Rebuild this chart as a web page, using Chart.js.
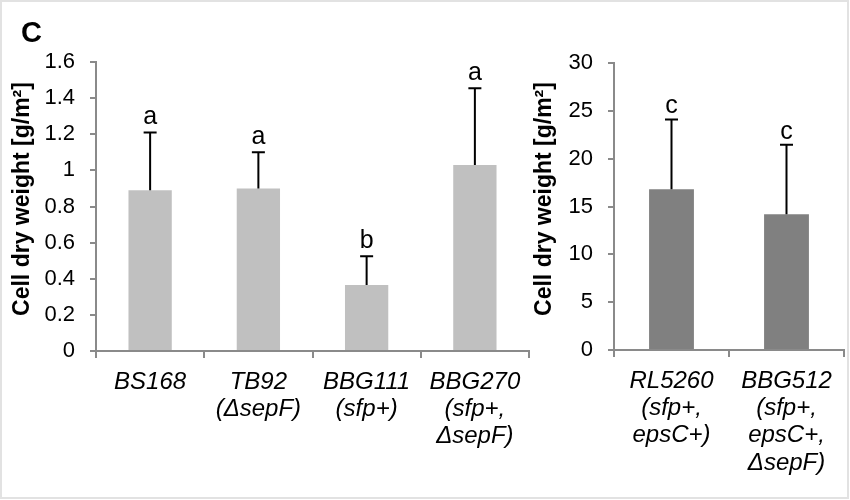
<!DOCTYPE html>
<html><head><meta charset="utf-8">
<script src="https://cdn.jsdelivr.net/npm/chart.js@4"></script>
<style>
html,body{margin:0;padding:0;background:#fff;}
#wrap{position:relative;width:850px;height:500px;overflow:hidden;background:#fff;}
#frame{position:absolute;left:0;top:0;width:845px;height:495px;border:2px solid #e2e2e2;pointer-events:none;}
#c1{position:absolute;left:0;top:0;}
#c2{position:absolute;left:530px;top:0;}
#lbl{position:absolute;left:21px;top:16px;font:bold 29px "Liberation Sans",Arial,sans-serif;color:#000;}
</style></head>
<body>
<div id="wrap">
<canvas id="c1" width="530" height="500" style="width:530px;height:500px"></canvas>
<canvas id="c2" width="320" height="500" style="width:320px;height:500px"></canvas>
<div id="lbl">C</div>
<div id="frame"></div>
</div>
<script>
// ---- data ----
const leftCategories = [['BS168'], ['TB92', '(\u0394sepF)'], ['BBG111', '(sfp+)'], ['BBG270', '(sfp+,', '\u0394sepF)']];
const leftMeans = [0.89, 0.90, 0.365, 1.03];
const leftErrors = [0.32, 0.20, 0.16, 0.425];
const leftLetters = ['a', 'a', 'b', 'a'];
const leftTicks = ['0', '0.2', '0.4', '0.6', '0.8', '1', '1.2', '1.4', '1.6'];

const rightCategories = [['RL5260', '(sfp+,', 'epsC+)'], ['BBG512', '(sfp+,', 'epsC+,', '\u0394sepF)']];
const rightMeans = [16.8, 14.2];
const rightErrors = [7.3, 7.25];
const rightLetters = ['c', 'c'];
const rightTicks = ['0', '5', '10', '15', '20', '25', '30'];

const yTitle = 'Cell dry weight [g/m\u00B2]';

// ---- styling ----
const FONT = '"Liberation Sans", Arial, sans-serif';
const AXIS = '#8a8a8a';

const errPlugin = {
  id: 'errbars',
  afterDatasetsDraw(chart, args, opts) {
    const ctx = chart.ctx;
    const meta = chart.getDatasetMeta(0);
    const ys = chart.scales.y;
    const means = chart.data.datasets[0].data;
    ctx.save();
    meta.data.forEach((el, i) => {
      const x = el.x;
      const yb = ys.getPixelForValue(means[i]);
      const yt = ys.getPixelForValue(means[i] + opts.errors[i]);
      ctx.strokeStyle = '#000';
      ctx.lineWidth = 2;
      ctx.beginPath();
      ctx.moveTo(x, yb); ctx.lineTo(x, yt);
      ctx.moveTo(x - 6.5, yt); ctx.lineTo(x + 6.5, yt);
      ctx.stroke();
      ctx.fillStyle = '#000';
      ctx.font = '25px ' + FONT;
      ctx.textAlign = 'center';
      ctx.textBaseline = 'alphabetic';
      ctx.fillText(opts.letters[i], x, yt - opts.gap);
    });
    // y axis title
    ctx.translate(opts.titleX, opts.titleY);
    ctx.rotate(-Math.PI / 2);
    ctx.font = 'bold 23px ' + FONT;
    ctx.textAlign = 'center';
    ctx.textBaseline = 'middle';
    ctx.fillStyle = '#000';
    ctx.fillText(yTitle, 0, 0);
    ctx.restore();
  }
};

function makeChart(id, cats, means, errs, letters, ticks, color, yMax, step, cfg) {
  return new Chart(document.getElementById(id), {
    type: 'bar',
    data: {
      labels: cats,
      datasets: [{ data: means, backgroundColor: color, borderWidth: 0,
        categoryPercentage: 1.0, barPercentage: cfg.barPct }]
    },
    plugins: [errPlugin],
    options: {
      responsive: false,
      animation: false,
      events: [],
      layout: { padding: cfg.padding },
      plugins: {
        legend: { display: false },
        tooltip: { enabled: false },
        errbars: { errors: errs, letters: letters, gap: cfg.gap, titleX: cfg.titleX, titleY: 199 }
      },
      scales: {
        x: {
          offset: true,
          grid: { display: true, drawOnChartArea: false, offset: true, tickLength: 7, color: AXIS, lineWidth: 2 },
          border: { display: true, color: AXIS, width: 2 },
          ticks: { color: '#000', padding: 11, maxRotation: 0, autoSkip: false,
            font: { family: FONT, size: 24, style: 'italic', lineHeight: 1.13 } },
          afterFit(s) { s.height = cfg.xHeight; s.paddingLeft = 0; s.paddingRight = 0; }
        },
        y: {
          min: 0, max: yMax,
          ticks: { stepSize: step, color: '#000', padding: 15,
            font: { family: FONT, size: 22 },
            callback: (v, i) => ticks[i] },
          grid: { display: true, drawOnChartArea: false, tickLength: 6, color: AXIS, lineWidth: 2 },
          border: { display: true, color: AXIS, width: 2 },
          title: { display: false },
          afterFit(s) { s.width = cfg.yWidth; s.paddingTop = 0; s.paddingBottom = 0; }
        }
      }
    }
  });
}

makeChart('c1', leftCategories, leftMeans, leftErrors, leftLetters, leftTicks, '#c0c0c0', 1.6, 0.2,
  { padding: { top: 62, right: 1, bottom: 0, left: 0 }, xHeight: 149, yWidth: 96, titleX: 23, barPct: 0.4, gap: 8 });
makeChart('c2', rightCategories, rightMeans, rightErrors, rightLetters, rightTicks, '#808080', 30, 5,
  { padding: { top: 63, right: 6, bottom: 0, left: 0 }, xHeight: 150, yWidth: 84, titleX: 15, barPct: 0.39, gap: 6 });
</script>
</body></html>
